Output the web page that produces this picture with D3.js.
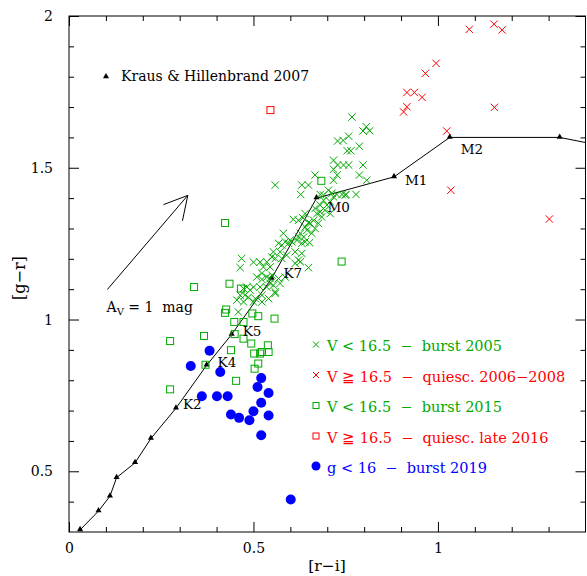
<!DOCTYPE html>
<html><head><meta charset="utf-8">
<script src="https://cdn.jsdelivr.net/npm/d3@7"></script>
<style>
body{margin:0;background:#fff}
svg text{font-family:"DejaVu Serif","Liberation Serif",serif}
</style></head><body>
<svg id="c" width="587" height="576"></svg>
<script>
// ---------- DATA ----------
// Kraus & Hillenbrand 2007 sequence
const khRI = [0.030,0.080,0.111,0.129,0.179,0.222,0.290,0.373,0.441,0.549,0.671,0.881,1.032,1.330,1.600];
const khGR = [0.307,0.369,0.418,0.479,0.528,0.608,0.708,0.849,0.951,1.135,1.400,1.470,1.600,1.600,1.535];
const khType = ["","","","","","","K2","K4","K5","K7","M0","M1","M2","",""];

// [r-i, g-r]
const burst2005 = [[0.767,1.667],[0.806,1.635],[0.815,1.622],[0.797,1.621],[0.758,1.604],[0.743,1.590],[0.728,1.588],[0.787,1.571],[0.764,1.556],[0.754,1.556],[0.717,1.525],[0.728,1.509],[0.744,1.509],[0.758,1.509],[0.797,1.509],[0.717,1.495],[0.667,1.476],[0.727,1.476],[0.787,1.476],[0.717,1.459],[0.807,1.459],[0.559,1.443],[0.631,1.443],[0.649,1.443],[0.628,1.412],[0.681,1.412],[0.703,1.426],[0.713,1.416],[0.740,1.412],[0.751,1.412],[0.778,1.412],[0.717,1.404],[0.690,1.410],[0.690,1.393],[0.681,1.377],[0.699,1.377],[0.694,1.360],[0.672,1.349],[0.685,1.338],[0.663,1.327],[0.676,1.317],[0.654,1.317],[0.667,1.300],[0.645,1.294],[0.658,1.284],[0.636,1.272],[0.640,1.349],[0.608,1.330],[0.667,1.366],[0.681,1.355],[0.708,1.388],[0.622,1.327],[0.634,1.335],[0.649,1.319],[0.581,1.284],[0.586,1.256],[0.577,1.245],[0.599,1.261],[0.618,1.261],[0.631,1.251],[0.622,1.272],[0.640,1.256],[0.652,1.253],[0.568,1.251],[0.604,1.256],[0.554,1.223],[0.572,1.223],[0.590,1.212],[0.613,1.223],[0.631,1.218],[0.550,1.206],[0.559,1.201],[0.577,1.201],[0.622,1.196],[0.627,1.190],[0.613,1.185],[0.468,1.201],[0.464,1.171],[0.500,1.189],[0.518,1.189],[0.536,1.190],[0.527,1.173],[0.545,1.173],[0.649,1.171],[0.509,1.140],[0.523,1.152],[0.536,1.140],[0.545,1.135],[0.568,1.135],[0.572,1.119],[0.500,1.107],[0.518,1.107],[0.536,1.107],[0.554,1.113],[0.482,1.107],[0.523,1.132],[0.559,1.091],[0.473,1.102],[0.491,1.097],[0.477,1.080],[0.455,1.064],[0.473,1.058],[0.486,1.073],[0.505,1.069],[0.523,1.080],[0.541,1.069],[0.459,1.025],[0.464,1.080],[0.500,1.058],[0.523,1.058],[0.586,1.140],[0.550,1.146],[0.545,1.119],[0.559,1.086],[0.749,1.410],[0.627,1.284],[0.640,1.305],[0.708,1.349],[0.595,1.251],[0.726,1.412]];
const quiesc0608 = [[1.085,1.956],[1.152,1.973],[1.174,1.954],[0.995,1.844],[0.966,1.811],[0.916,1.748],[0.936,1.748],[0.957,1.732],[0.916,1.701],[0.907,1.684],[1.153,1.699],[1.024,1.621],[1.035,1.426],[1.302,1.331]];
const burst2015 = [[0.423,1.318],[0.339,1.107],[0.435,1.118],[0.466,1.102],[0.684,1.457],[0.739,1.191],[0.274,0.929],[0.274,0.770],[0.366,0.946],[0.370,0.851],[0.439,0.899],[0.453,0.798],[0.426,1.033],[0.423,1.022],[0.497,1.020],[0.513,1.011],[0.557,1.003],[0.448,0.992],[0.473,0.992],[0.473,0.937],[0.494,0.921],[0.539,0.915],[0.523,0.893],[0.541,0.893],[0.502,0.888],[0.518,0.888],[0.513,0.855],[0.503,0.838],[0.449,0.952]];
const quiesc2016 = [[0.546,1.690]];
const burst2019 = [[0.381,0.897],[0.330,0.847],[0.410,0.827],[0.360,0.747],[0.401,0.747],[0.430,0.747],[0.521,0.807],[0.511,0.778],[0.541,0.758],[0.521,0.726],[0.500,0.698],[0.439,0.687],[0.461,0.676],[0.489,0.668],[0.541,0.684],[0.521,0.619],[0.601,0.407]];

// extinction vector A_V = 1 mag: [start, end]
const avVector = [[0.104,1.099],[0.322,1.409]];

const xTickVals = [0,0.5,1];
const xTickLabels = ["0","0.5","1"];
const yTickVals = [0.5,1,1.5,2];
const yTickLabels = ["0.5","1","1.5","2"];

const legendLabels = ["V < 16.5  \u2212  burst 2005","V \u2267 16.5  \u2212  quiesc. 2006\u22122008","V < 16.5  \u2212  burst 2015","V \u2267 16.5  \u2212  quiesc. late 2016","g < 16  \u2212  burst 2019"];

// ---------- STYLE ----------
const GREEN="#00a800", RED="#ff0000", BLUE="#0000ff";
const labelOffset = {K2:[7,-4],K4:[11,-3],K5:[11,-3],K7:[12,-5],M0:[11,9],M1:[11,3],M2:[11,12]};

const svg=d3.select("#c");
const m={l:69,t:16,r:585.5,b:532};
const x=d3.scaleLinear().domain([0,1.4]).range([m.l,m.r]);
const y=d3.scaleLinear().domain([0.3,2]).range([m.b,m.t]);

svg.append("defs").append("clipPath").attr("id","clip").append("rect")
  .attr("x",m.l).attr("y",m.t).attr("width",m.r-m.l).attr("height",m.b-m.t);

// axes
function axis(fn, vals, size, labels, tr, pad){
  const a=fn(fn===d3.axisBottom||fn===d3.axisTop?x:y).tickValues(vals).tickSize(size).tickPadding(pad)
    .tickFormat(labels?((d,i)=>labels[i]):"");
  const g=svg.append("g").attr("transform",tr).call(a);
  g.select(".domain").remove();
  g.selectAll("line").attr("stroke","#000").attr("stroke-width",1);
  g.selectAll("text").attr("font-size",14).attr("fill","#000").attr("font-family","DejaVu Serif");
}
const xMinor=d3.range(1,14).map(i=>i/10).filter(v=>!xTickVals.includes(v));
const yMinor=d3.range(4,20).map(i=>i/10).filter(v=>!yTickVals.includes(v));
axis(d3.axisBottom,xTickVals,-10,xTickLabels,`translate(0,${m.b})`,11);
axis(d3.axisBottom,xMinor,-5,null,`translate(0,${m.b})`,3);
axis(d3.axisTop,xTickVals,-10,null,`translate(0,${m.t})`,3);
axis(d3.axisTop,xMinor,-5,null,`translate(0,${m.t})`,3);
axis(d3.axisLeft,yTickVals,-10,yTickLabels,`translate(${m.l},0)`,16);
axis(d3.axisLeft,yMinor,-5,null,`translate(${m.l},0)`,3);
axis(d3.axisRight,yTickVals,-10,null,`translate(${m.r},0)`,3);
axis(d3.axisRight,yMinor,-5,null,`translate(${m.r},0)`,3);

svg.append("rect").attr("x",m.l).attr("y",m.t).attr("width",m.r-m.l).attr("height",m.b-m.t)
  .attr("fill","none").attr("stroke","#000").attr("stroke-width",1);

// axis titles
svg.append("text").attr("x",327).attr("y",571).attr("text-anchor","middle").attr("font-size",15.5).text("[r\u2212i]");
svg.append("text").attr("transform","translate(25,278) rotate(-90)").attr("text-anchor","middle").attr("font-size",16).text("[g\u2212r]");

const plot=svg.append("g").attr("clip-path","url(#clip)");

// K&H sequence
const kh=khRI.map((v,i)=>({ri:v,gr:khGR[i],t:khType[i]}));
plot.append("path").datum(kh).attr("fill","none").attr("stroke","#000").attr("stroke-width",1)
  .attr("d",d3.line().x(d=>x(d.ri)).y(d=>y(d.gr)));
const tri=d3.symbol().type(d3.symbolTriangle).size(16);
plot.selectAll(".kh").data(kh).enter().append("path")
  .attr("transform",d=>`translate(${x(d.ri)},${y(d.gr)-0.5})`).attr("d",tri).attr("fill","#000");
svg.selectAll(".khl").data(kh.filter(d=>d.t)).enter().append("text")
  .attr("x",d=>x(d.ri)+labelOffset[d.t][0]).attr("y",d=>y(d.gr)+labelOffset[d.t][1]).attr("dy","0.36em")
  .attr("font-size",13.5).text(d=>d.t);

// markers
function cross(g,data,col,s){
  g.selectAll(null).data(data).enter().append("path")
   .attr("d",d=>{const cx=x(d[0]),cy=y(d[1]);return `M${cx-s},${cy-s}L${cx+s},${cy+s}M${cx-s},${cy+s}L${cx+s},${cy-s}`;})
   .attr("stroke",col).attr("stroke-width",1).attr("fill","none");
}
function square(g,data,col,s){
  g.selectAll(null).data(data).enter().append("rect")
   .attr("x",d=>x(d[0])-s).attr("y",d=>y(d[1])-s).attr("width",2*s).attr("height",2*s)
   .attr("stroke",col).attr("stroke-width",1).attr("fill","none");
}
cross(plot,burst2005,GREEN,3.7);
square(plot,burst2015,GREEN,3.5);
cross(plot,quiesc0608,RED,3.7);
square(plot,quiesc2016,RED,3.5);
plot.selectAll(null).data(burst2019).enter().append("circle")
  .attr("cx",d=>x(d[0])).attr("cy",d=>y(d[1])).attr("r",5).attr("fill",BLUE);

// extinction arrow
const a0=[x(avVector[0][0]),y(avVector[0][1])], a1=[x(avVector[1][0]),y(avVector[1][1])];
const ang=Math.atan2(a0[1]-a1[1],a0[0]-a1[0]);
const hl=26, ha=0.5;
svg.append("path").attr("fill","none").attr("stroke","#000").attr("stroke-width",1)
  .attr("d",`M${a0[0]},${a0[1]}L${a1[0]},${a1[1]}M${a1[0]+hl*Math.cos(ang+ha)},${a1[1]+hl*Math.sin(ang+ha)}L${a1[0]},${a1[1]}L${a1[0]+hl*Math.cos(ang-ha)},${a1[1]+hl*Math.sin(ang-ha)}`);
const av=svg.append("text").attr("x",106.5).attr("y",312).attr("font-size",14);
av.append("tspan").text("A");
av.append("tspan").attr("font-size",10).attr("dy",3).text("V");
av.append("tspan").attr("dy",-3).attr("style","white-space:pre").text(" = 1  mag");

// K&H legend
svg.append("path").attr("transform","translate(106,76.5)").attr("d",d3.symbol().type(d3.symbolTriangle).size(16)).attr("fill","#000");
svg.append("text").attr("x",121).attr("y",81).attr("font-size",14).text("Kraus & Hillenbrand 2007");

// legend
const legColors=[GREEN,RED,GREEN,RED,BLUE];
const legY=[344.5,375,405.5,436,466];
const lg=svg.append("g");
legendLabels.forEach((t,i)=>{
  const cy=legY[i], cx=316;
  if(i<2) lg.append("path").attr("d",`M${cx-3},${cy-3}L${cx+3},${cy+3}M${cx-3},${cy+3}L${cx+3},${cy-3}`).attr("stroke",legColors[i]).attr("fill","none");
  else if(i<4) lg.append("rect").attr("x",cx-3).attr("y",cy-3).attr("width",6).attr("height",6).attr("stroke",legColors[i]).attr("fill","none");
  else lg.append("circle").attr("cx",cx).attr("cy",cy).attr("r",4.5).attr("fill",legColors[i]);
  lg.append("text").attr("x",327).attr("y",cy+6.5).attr("font-size",14.5).attr("fill",legColors[i])
    .attr("style","white-space:pre").text(t);
});
</script>
</body></html>
